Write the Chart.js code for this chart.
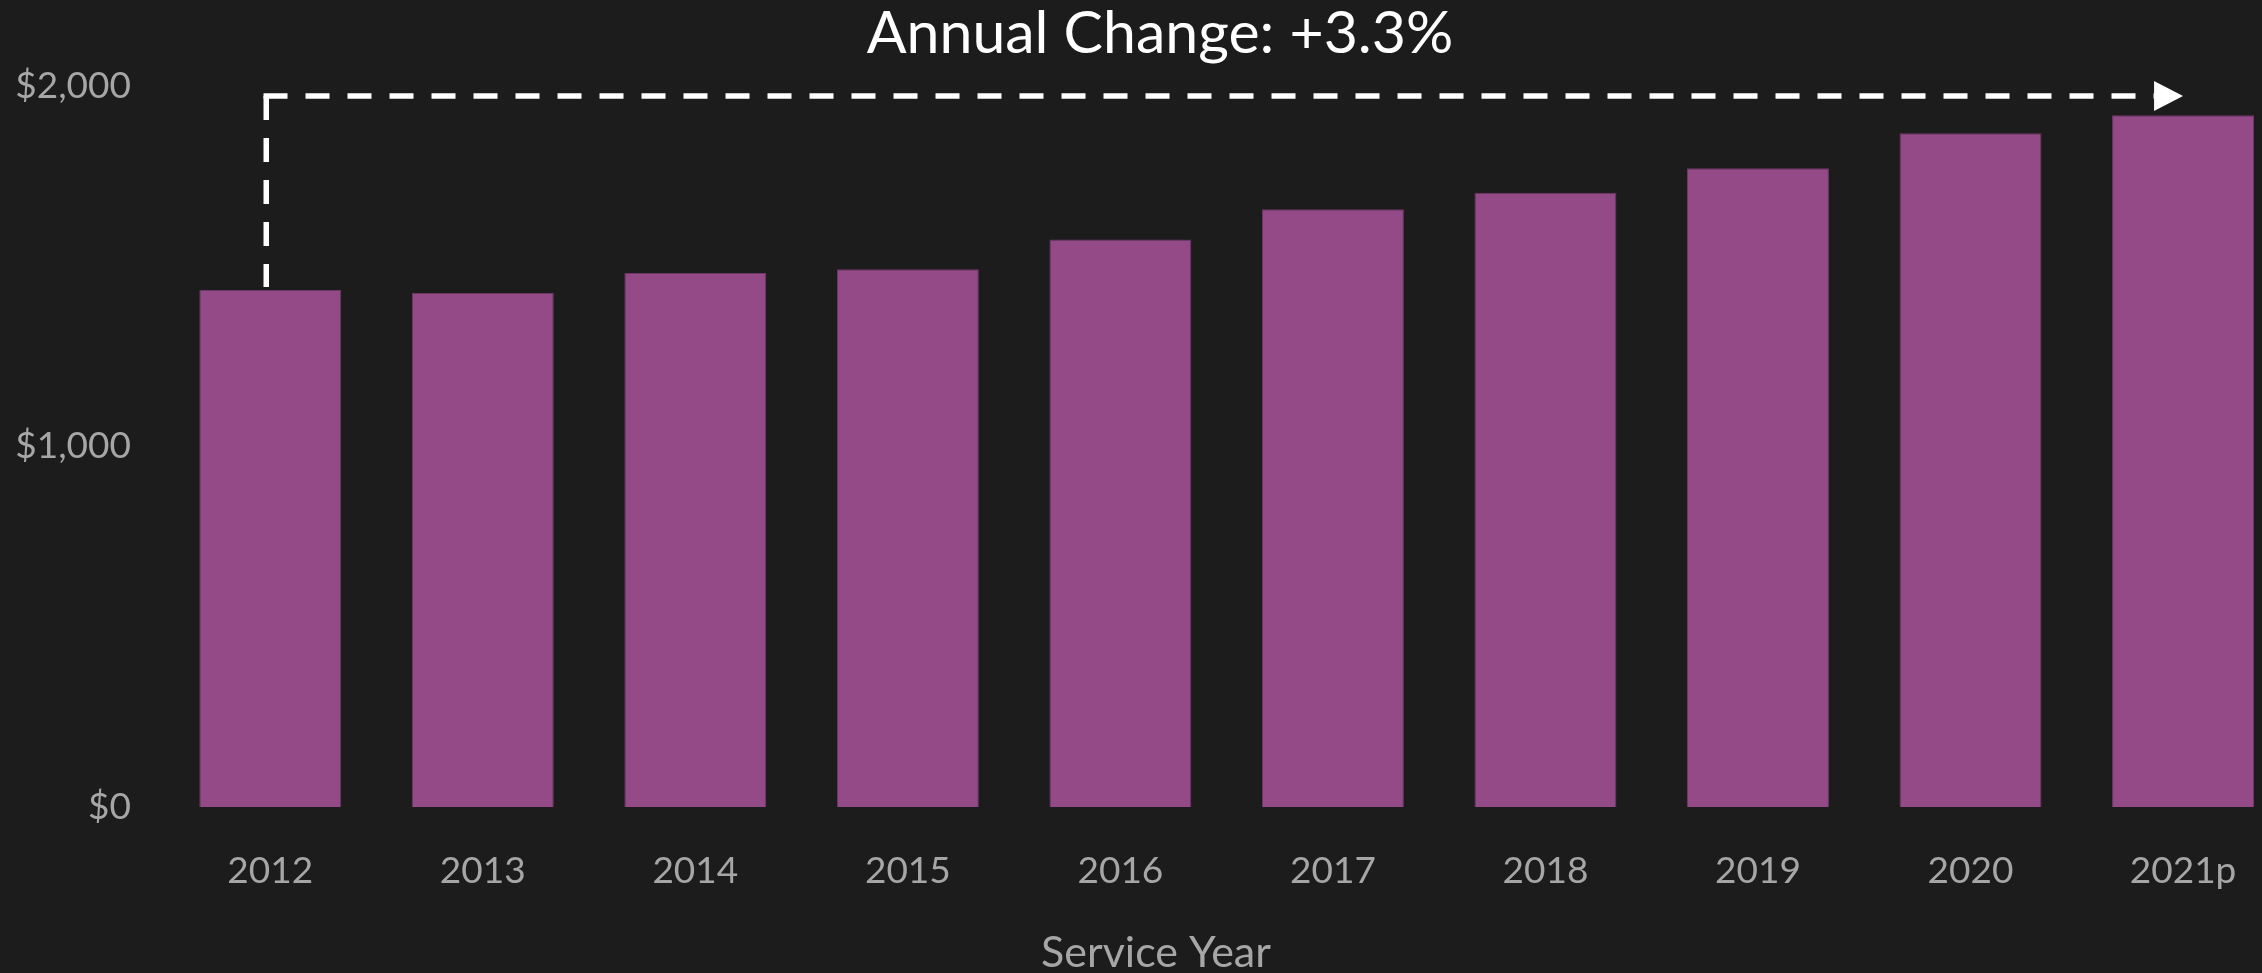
<!DOCTYPE html>
<html>
<head>
<meta charset="utf-8">
<script src="https://cdn.jsdelivr.net/npm/chart.js@4/dist/chart.umd.min.js"></script>
<style>
  html, body { margin: 0; padding: 0; background: #1c1c1c; overflow: hidden; }
  #wrap { position: absolute; left: 0; top: 0; width: 2300px; height: 973px; }
</style>
</head>
<body>
<div id="wrap"><canvas id="costChart"></canvas></div>
<script>
var years = ["2012", "2013", "2014", "2015", "2016", "2017", "2018", "2019", "2020", "2021p"];
var costs = [1434, 1426, 1481, 1492, 1574, 1658, 1704, 1772, 1869, 1919];
var yTicks = [0, 1000, 2000];
var titleText = "Annual Change: +3.3%";
var axisText = "Service Year";
// level of the dashed arrow, in dollars
var arrowLevel = 1972;

var textGrey = '#a6a6a6';

// dashed arrow from the first bar to the last one, plus the two texts
var arrowPlugin = {
    id: 'arrowPlugin',
    afterDatasetsDraw: function (chart) {
        var ctx = chart.ctx;
        var x = chart.scales.x;
        var y = chart.scales.y;
        var x0 = x.getPixelForValue(0) - 4;
        var x1 = x.getPixelForValue(years.length - 1);
        var yTop = y.getPixelForValue(arrowLevel);
        var yBar = y.getPixelForValue(costs[0]) - 3;
        var head = 29;

        ctx.save();
        ctx.strokeStyle = '#ffffff';
        ctx.lineWidth = 5.5;
        ctx.setLineDash([24, 18]);
        ctx.beginPath();
        ctx.moveTo(x0, yTop);
        ctx.lineTo(x0, yBar);
        ctx.stroke();
        ctx.beginPath();
        ctx.moveTo(x0 - 2.75, yTop);
        ctx.lineTo(x1 - head, yTop);
        ctx.stroke();
        ctx.setLineDash([]);
        ctx.fillStyle = '#ffffff';
        ctx.beginPath();
        ctx.moveTo(x1, yTop);
        ctx.lineTo(x1 - head, yTop - 15);
        ctx.lineTo(x1 - head, yTop + 15);
        ctx.closePath();
        ctx.fill();

        ctx.textAlign = 'center';
        ctx.textBaseline = 'alphabetic';
        ctx.fillStyle = '#ffffff';
        ctx.font = '59px Lato';
        ctx.fillText(titleText, 1160, 53);
        ctx.fillStyle = textGrey;
        ctx.font = '43px Lato';
        ctx.fillText(axisText, 1156, 967);
        ctx.restore();
    }
};

Chart.defaults.font.family = 'Lato';

var ctx = document.getElementById('costChart').getContext('2d');
var costChart = new Chart(ctx, {
    type: 'bar',
    data: {
        labels: years,
        datasets: [{
            data: costs,
            backgroundColor: '#934a87',
            borderColor: '#6e3766',
            borderWidth: 1,
            barPercentage: 0.668,
            categoryPercentage: 1.0
        }]
    },
    options: {
        responsive: true,
        maintainAspectRatio: false,
        animation: false,
        layout: {
            padding: { top: 86, right: 10.7, bottom: 0, left: 0 }
        },
        plugins: {
            legend: { display: false },
            tooltip: { enabled: false }
        },
        scales: {
            x: {
                grid: { display: false },
                border: { display: false },
                ticks: {
                    color: textGrey,
                    font: { size: 37 },
                    padding: 34,
                    maxRotation: 0
                },
                afterFit: function (scale) { scale.height = 166; }
            },
            y: {
                min: 0,
                max: 2000,
                grid: { display: false },
                border: { display: false },
                afterBuildTicks: function (scale) {
                    scale.ticks = yTicks.map(function (v) { return { value: v }; });
                },
                ticks: {
                    color: textGrey,
                    font: { size: 37 },
                    padding: 25,
                    callback: function (value) {
                        return '$' + value.toLocaleString('en-US');
                    }
                },
                afterFit: function (scale) { scale.width = 164; }
            }
        }
    },
    plugins: [arrowPlugin]
});
</script>
</body>
</html>
